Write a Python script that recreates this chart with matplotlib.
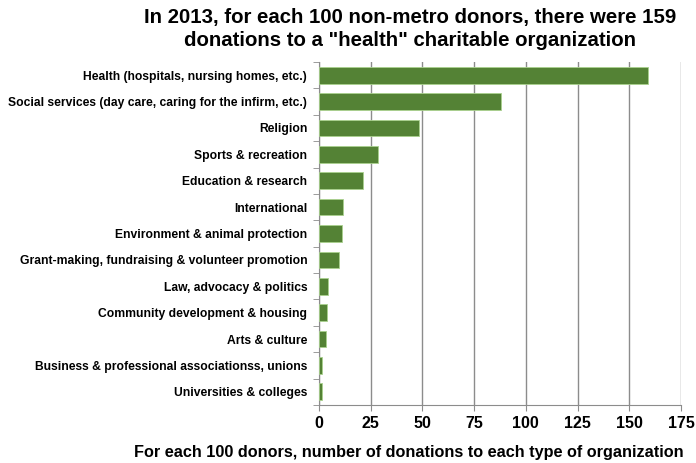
import matplotlib
matplotlib.use("Agg")
import matplotlib.pyplot as plt
import numpy as np

plt.rcParams['font.family'] = ['Liberation Sans', 'DejaVu Sans']

categories = [
    "Health (hospitals, nursing homes, etc.)",
    "Social services (day care, caring for the infirm, etc.)",
    "Religion",
    "Sports & recreation",
    "Education & research",
    "International",
    "Environment & animal protection",
    "Grant-making, fundraising & volunteer promotion",
    "Law, advocacy & politics",
    "Community development & housing",
    "Arts & culture",
    "Business & professional associationss, unions",
    "Universities & colleges",
]
donations = [159, 88, 48.5, 28.4, 21.4, 11.4, 11.1, 9.8, 4.3, 3.7, 3.2, 1.3, 1.3]
xticks = [0, 25, 50, 75, 100, 125, 150, 175]

fig = plt.figure(figsize=(6.96, 4.63), dpi=100)
ax = fig.add_axes([0.4583, 0.1253, 0.5201, 0.7407])

y = np.arange(len(categories))
ax.barh(y, donations, height=0.63, color="#548235", edgecolor="#a9d18e", linewidth=0.6, zorder=3)
ax.set_ylim(len(categories) - 0.5, -0.5)
ax.set_xlim(0, 175)

ax.set_xticks(xticks)
ax.set_xticklabels([str(t) for t in xticks], fontsize=11.5, fontweight="bold")
ax.xaxis.grid(True, color="#8c8c8c", linewidth=1.0, zorder=0)
ax.set_yticks(y)
ax.set_yticklabels(categories, fontsize=8.75, fontweight="bold")

# category separators on the left axis
ax.set_yticks(np.arange(len(categories) + 1) - 0.5, minor=True)
ax.tick_params(axis="y", which="major", length=0, pad=8.5)
ax.tick_params(axis="y", which="minor", length=4, color="#8c8c8c", direction="out")
ax.tick_params(axis="x", which="major", length=4, color="#8c8c8c", direction="out", pad=4)

for side in ("top", "right"):
    ax.spines[side].set_visible(False)
for side in ("left", "bottom"):
    ax.spines[side].set_color("#8c8c8c")

fig.text(0.587, 0.012,
         "For each 100 donors, number of donations to each type of organization",
         ha="center", va="baseline", fontsize=11.7, fontweight="bold")

fig.text(0.589, 0.982,
         'In 2013, for each 100 non-metro donors, there were 159\ndonations to a "health" charitable organization',
         ha="center", va="top", fontsize=14.7, fontweight="bold", linespacing=1.25)

fig.savefig("out.png", dpi=100)
